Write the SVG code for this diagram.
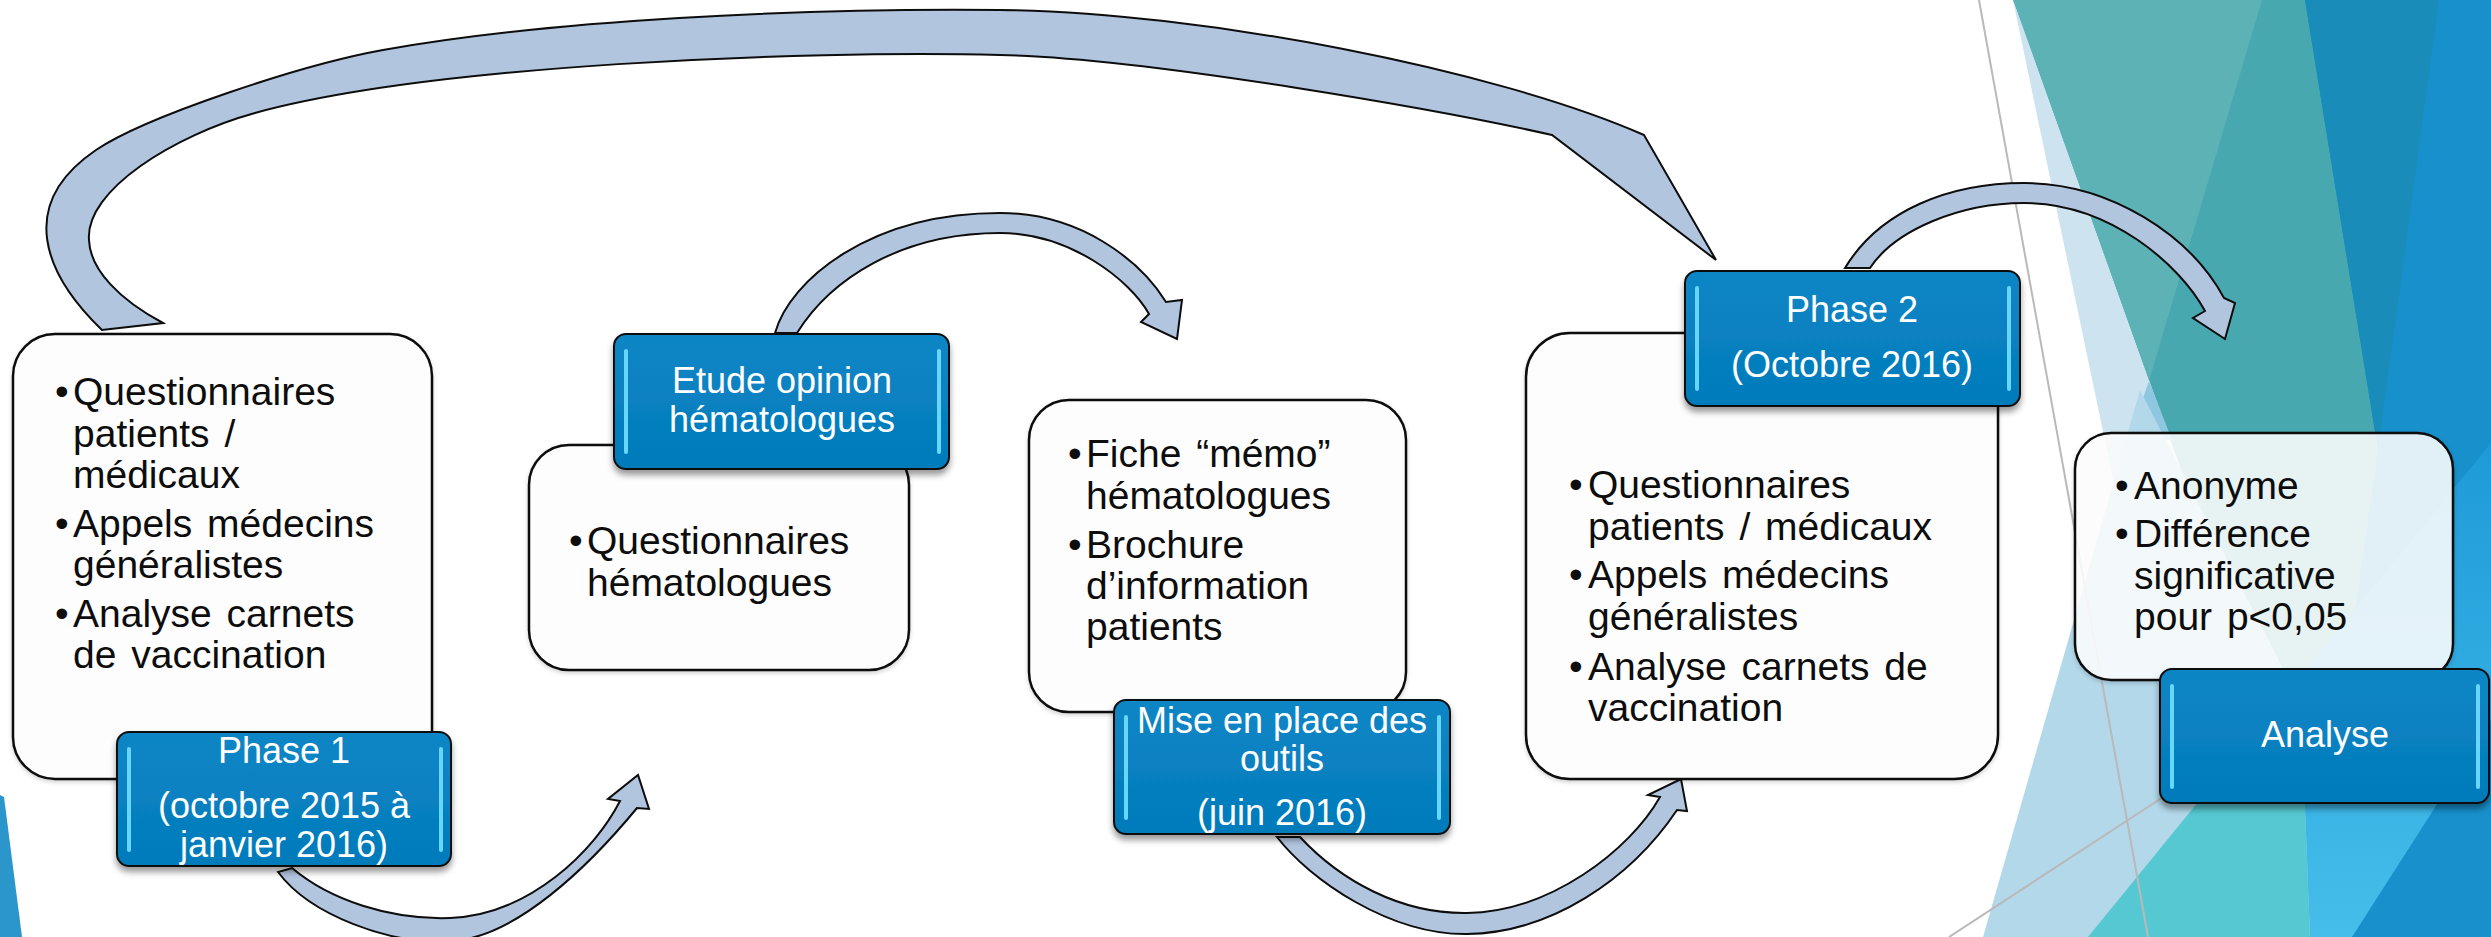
<svg xmlns="http://www.w3.org/2000/svg" width="2491" height="937" viewBox="0 0 2491 937">
<defs>
<style>
.bg{stroke:none}
.gline{stroke:#b9b9b9;stroke-width:2;fill:none}
.arrow{fill:#b2c5df;stroke:#0d0d0d;stroke-width:2;stroke-linejoin:miter}
.wbox{fill:#fdfdfd;stroke:#0d0d0d;stroke-width:2.5}
.wbox-t{fill:#ffffff;fill-opacity:0.86;stroke:#0d0d0d;stroke-width:2.5}
.bbox{fill:url(#blueg);stroke:#111;stroke-width:2}
.hl{fill:#66d6fb}
.t{font-family:"Liberation Sans",Arial,sans-serif;font-size:39px;fill:#0d0d0d;word-spacing:4px}
.w{font-family:"Liberation Sans",Arial,sans-serif;font-size:36px;fill:#ffffff;text-anchor:middle}
</style>
<linearGradient id="blueg" x1="0" y1="0" x2="0" y2="1">
<stop offset="0" stop-color="#0a86c6"/>
<stop offset="1" stop-color="#047bbb"/>
</linearGradient>
<linearGradient id="brg" x1="0" y1="0" x2="0" y2="1">
<stop offset="0" stop-color="#1e9ad8"/>
<stop offset="1" stop-color="#45beea"/>
</linearGradient>
<filter id="sh" x="-10%" y="-10%" width="120%" height="140%">
<feDropShadow dx="0" dy="5" stdDeviation="3" flood-color="#000" flood-opacity="0.4"/>
</filter>
<filter id="shw" x="-10%" y="-10%" width="120%" height="120%">
<feDropShadow dx="0" dy="2" stdDeviation="2" flood-color="#000" flood-opacity="0.18"/>
</filter>
</defs>

<g id="background">
<polygon class="bg" points="2290,0 2491,0 2491,937 2240,937" fill="#1790cc"/>
<polygon class="bg" points="2013,0 2305,0 2378,450 2320,858" fill="#48a8b0"/>
<polygon class="bg" points="2305,0 2439,0 2378,450" fill="#1a8cb9"/>
<polygon class="bg" points="2013,0 2262,0 2149,381" fill="#5cb2b4"/>
<polygon class="bg" points="2013,0 2149,381 2116,494" fill="#cde4f0"/>
<polygon class="bg" points="2149,381 2172,440 2128,440" fill="#8fc6e0"/>
<polygon class="bg" points="2140,390 2330,760 2320,937 1983,937" fill="#b3d8ea"/>
<polygon class="bg" points="2088,937 2194,807 2300,677 2310,937" fill="#55c8d2"/>
<polygon class="bg" points="2300,677 2491,443 2491,720 2352,937 2310,937" fill="url(#brg)"/>
<polygon class="bg" points="0,795 4,797 22,937 0,937" fill="#2a96cb"/>
<line class="gline" x1="1979" y1="0" x2="2148" y2="937"/>
<line class="gline" x1="1949" y1="937" x2="2200" y2="773"/>
</g>

<g id="connectors">
<path id="arrow-phase1-phase2" class="arrow" d="M102,330 C45,275 15,205 96,150 C145,117 300,65 383,50 C550,20 800,8 1000,10 C1200,12 1494,69 1644,135 L1716,260 L1552,135 C1450,112 1150,58 1000,55 C800,50 430,65 255,113 C175,135 85,190 89,240 C90,270 120,300 163,323 Z"/>
<path id="arrow-phase1-etude" class="arrow" d="M278,872 C310,915 390,945 450,941 C515,939 590,865 637,808 L649,809 L638,775 L608,799 L620,801 C595,850 530,915 450,918 C390,920 330,900 292,868 Z"/>
<path id="arrow-etude-mise" class="arrow" d="M775,333 C790,280 870,213 1000,213 C1080,213 1140,260 1166,302 L1182,300 L1177,339 L1141,322 L1149,314 C1130,280 1070,233 1000,233 C900,233 830,280 797,333 Z"/>
<path id="arrow-mise-phase2" class="arrow" d="M1277,837 C1310,880 1390,935 1467,934 C1550,933 1630,880 1677,810 L1687,811 L1681,779 L1648,795 L1660,797 C1630,850 1550,912 1467,913 C1400,914 1340,880 1300,837 Z"/>
<path id="arrow-phase2-analyse" class="arrow" d="M1845,268 C1880,210 1950,183 2024,183 C2110,183 2190,235 2224,298 L2235,303 L2225,339 L2193,318 L2205,311 C2180,265 2110,203 2024,203 C1960,203 1895,230 1870,268 Z"/>
</g>

<g id="node-phase1-content">
<rect class="wbox" filter="url(#shw)" x="13" y="334" width="419" height="445" rx="42"/>
<text class="t" x="55" y="405">•</text>
<text class="t" x="73" y="405">Questionnaires</text>
<text class="t" x="73" y="447">patients /</text>
<text class="t" x="73" y="488">médicaux</text>
<text class="t" x="55" y="537">•</text>
<text class="t" x="73" y="537">Appels médecins</text>
<text class="t" x="73" y="578">généralistes</text>
<text class="t" x="55" y="627">•</text>
<text class="t" x="73" y="627">Analyse carnets</text>
<text class="t" x="73" y="668">de vaccination</text>
</g>
<g id="node-phase1">
<rect class="bbox" filter="url(#sh)" x="117" y="732" width="334" height="134" rx="12"/>
<rect class="hl" x="127" y="747" width="4" height="105" rx="2"/>
<rect class="hl" x="439" y="747" width="4" height="105" rx="2"/>
<text class="w" x="284" y="763">Phase 1</text>
<text class="w" x="284" y="818">(octobre 2015 à</text>
<text class="w" x="284" y="857">janvier 2016)</text>
</g>

<g id="node-etude-content">
<rect class="wbox" filter="url(#shw)" x="529" y="445" width="380" height="225" rx="40"/>
<text class="t" x="569" y="554">•</text>
<text class="t" x="587" y="554">Questionnaires</text>
<text class="t" x="587" y="596">hématologues</text>
</g>
<g id="node-etude">
<rect class="bbox" filter="url(#sh)" x="614" y="334" width="335" height="135" rx="12"/>
<rect class="hl" x="624" y="349" width="4" height="105" rx="2"/>
<rect class="hl" x="937" y="349" width="4" height="105" rx="2"/>
<text class="w" x="782" y="393">Etude opinion</text>
<text class="w" x="782" y="432">hématologues</text>
</g>

<g id="node-mise-content">
<rect class="wbox" filter="url(#shw)" x="1029" y="400" width="377" height="312" rx="40"/>
<text class="t" x="1068" y="467">•</text>
<text class="t" x="1086" y="467">Fiche “mémo”</text>
<text class="t" x="1086" y="509">hématologues</text>
<text class="t" x="1068" y="558">•</text>
<text class="t" x="1086" y="558">Brochure</text>
<text class="t" x="1086" y="599">d’information</text>
<text class="t" x="1086" y="640">patients</text>
</g>
<g id="node-mise">
<rect class="bbox" filter="url(#sh)" x="1114" y="700" width="336" height="134" rx="12"/>
<rect class="hl" x="1124" y="715" width="4" height="105" rx="2"/>
<rect class="hl" x="1437" y="715" width="4" height="105" rx="2"/>
<text class="w" x="1282" y="733">Mise en place des</text>
<text class="w" x="1282" y="771">outils</text>
<text class="w" x="1282" y="825">(juin 2016)</text>
</g>

<g id="node-phase2-content">
<rect class="wbox" filter="url(#shw)" x="1526" y="333" width="472" height="446" rx="44"/>
<text class="t" x="1569" y="498">•</text>
<text class="t" x="1588" y="498">Questionnaires</text>
<text class="t" x="1588" y="540">patients / médicaux</text>
<text class="t" x="1569" y="588">•</text>
<text class="t" x="1588" y="588">Appels médecins</text>
<text class="t" x="1588" y="630">généralistes</text>
<text class="t" x="1569" y="680">•</text>
<text class="t" x="1588" y="680">Analyse carnets de</text>
<text class="t" x="1588" y="721">vaccination</text>
</g>
<g id="node-phase2">
<rect class="bbox" filter="url(#sh)" x="1685" y="271" width="335" height="135" rx="12"/>
<rect class="hl" x="1695" y="286" width="4" height="105" rx="2"/>
<rect class="hl" x="2007" y="286" width="4" height="105" rx="2"/>
<text class="w" x="1852" y="322">Phase 2</text>
<text class="w" x="1852" y="377">(Octobre 2016)</text>
</g>

<g id="node-analyse-content">
<rect class="wbox-t" filter="url(#shw)" x="2075" y="433" width="378" height="247" rx="36"/>
<text class="t" x="2115" y="499">•</text>
<text class="t" x="2134" y="499">Anonyme</text>
<text class="t" x="2115" y="547">•</text>
<text class="t" x="2134" y="547">Différence</text>
<text class="t" x="2134" y="589">significative</text>
<text class="t" x="2134" y="630">pour p&lt;0,05</text>
</g>
<g id="node-analyse">
<rect class="bbox" filter="url(#sh)" x="2160" y="669" width="329" height="134" rx="12"/>
<rect class="hl" x="2170" y="684" width="4" height="105" rx="2"/>
<rect class="hl" x="2476" y="684" width="4" height="105" rx="2"/>
<text class="w" x="2325" y="747">Analyse</text>
</g>
</svg>
